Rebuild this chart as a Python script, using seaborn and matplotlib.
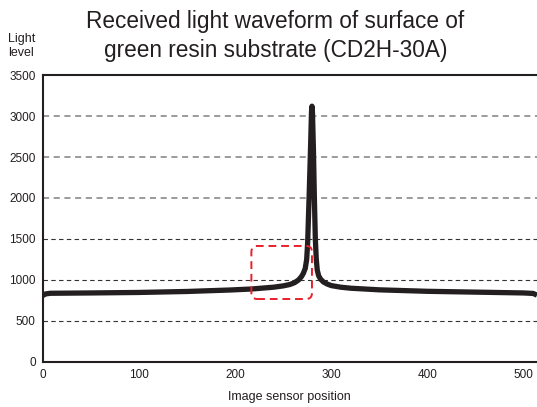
import matplotlib
matplotlib.use("Agg")
import matplotlib.pyplot as plt
import seaborn as sns
import pandas as pd
from matplotlib.patches import FancyBboxPatch

# ---- data ----
position = [0, 3, 8, 50, 100, 150, 195, 217, 240, 250, 257, 262, 266, 269, 271,
            273, 274.5, 275.5, 277, 278.5, 279.5, 280, 280.5, 281.5, 282.5, 283.5,
            284.5, 285.5, 287, 289, 292, 296, 300, 310, 320, 350, 400, 450, 500, 510, 514]
light = [810, 830, 838, 842, 848, 860, 878, 890, 912, 928, 945, 968, 1000, 1040, 1080,
         1140, 1250, 1450, 2000, 2600, 3050, 3120, 3050, 2600, 2000, 1500,
         1250, 1120, 1050, 1010, 975, 950, 932, 912, 900, 880, 862, 852, 842, 836, 815]
grid_levels = [500, 1000, 1500, 2000, 2500, 3000]
y_ticks = [0, 500, 1000, 1500, 2000, 2500, 3000, 3500]
x_ticks = [0, 100, 200, 300, 400, 500]
highlight_x = [217, 280]
highlight_y = [768, 1415]

df = pd.DataFrame({"position": position, "light": light})

sns.set_theme(style="white")
plt.rcParams["font.family"] = ["Liberation Sans", "DejaVu Sans"]

fig = plt.figure(figsize=(5.37, 4.07), dpi=100)
ax = fig.add_axes([0.0795, 0.1106, 0.9205, 0.7051])

for g in grid_levels:
    if g >= 2000:
        ax.axhline(g, color="#808080", lw=1.1, dashes=(4, 3), zorder=1)
    else:
        ax.axhline(g, color="#333333", lw=0.8, dashes=(4, 3), zorder=1)

sns.lineplot(data=df, x="position", y="light", ax=ax, color="#231f20",
             lw=3.8, solid_joinstyle="round", solid_capstyle="butt", zorder=3)

box = FancyBboxPatch((highlight_x[0], highlight_y[0]),
                     highlight_x[1] - highlight_x[0], highlight_y[1] - highlight_y[0],
                     boxstyle="round,pad=0,rounding_size=6", mutation_aspect=12,
                     fill=False, ec="#e8202a", lw=1.4, ls=(0, (4, 2.5)), zorder=4)
ax.add_patch(box)

ax.set_xlim(0, 514)
ax.set_ylim(0, 3500)
ax.set_xticks(x_ticks)
ax.set_yticks(y_ticks)
ax.tick_params(axis="both", labelsize=8.5, length=0, pad=5, colors="#231f20")
ax.set_xlabel("Image sensor position", fontsize=9, color="#231f20", labelpad=7)
ax.set_ylabel("")
for s in ["left", "bottom", "top"]:
    ax.spines[s].set_color("#231f20")
    ax.spines[s].set_linewidth(1.5)
ax.spines["right"].set_visible(False)

fig.text(0.015, 0.918, "Light\nlevel", fontsize=9, color="#231f20",
         ha="left", va="top", linespacing=1.15)
fig.text(0.513, 0.975, "Received light waveform of surface of\ngreen resin substrate (CD2H-30A)",
         fontsize=16.3, color="#231f20", ha="center", va="top", linespacing=1.3)

fig.savefig("out.png", dpi=100)
